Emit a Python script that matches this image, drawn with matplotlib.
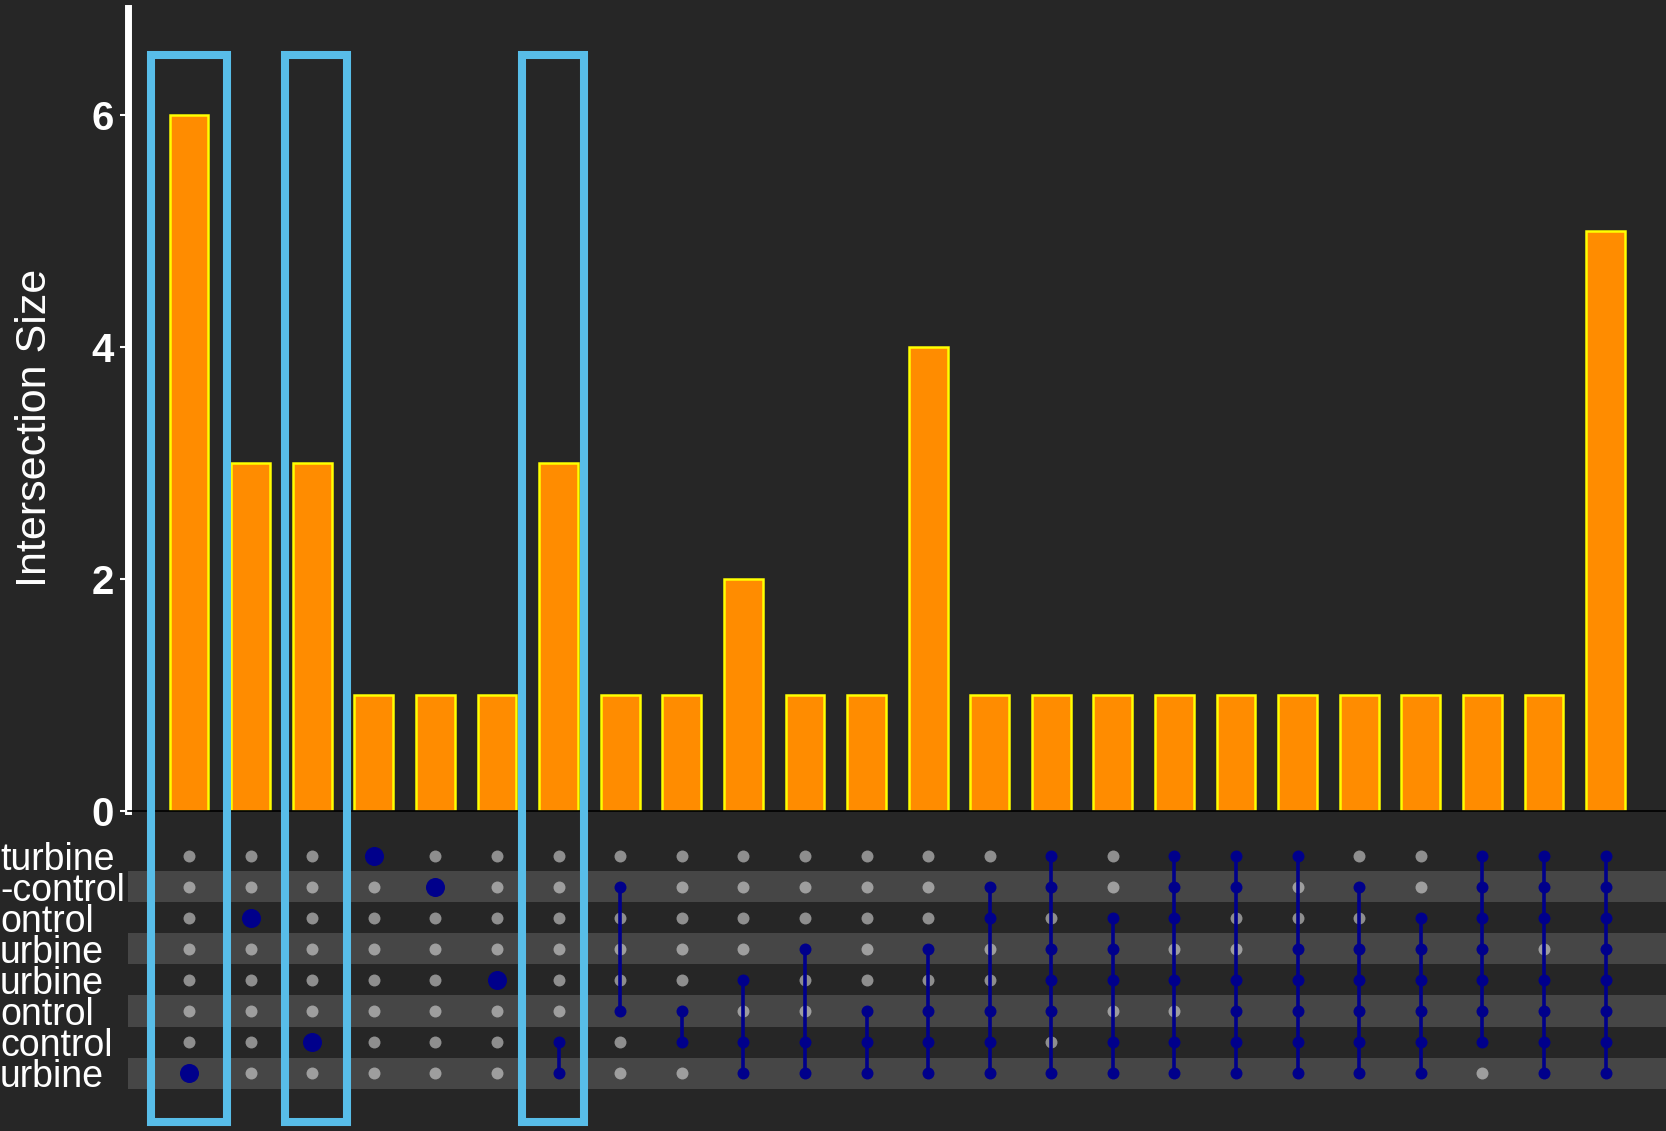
import numpy as np
import matplotlib.pyplot as plt
from matplotlib.patches import Rectangle
from matplotlib.transforms import blended_transform_factory

plt.rcParams['font.family'] = ['Liberation Sans', 'DejaVu Sans']

# set names (cut off at the left edge in the source picture)
set_labels = ['turbine', '-control', 'ontrol', 'urbine',
              'urbine', 'ontrol', 'control', 'urbine']

# intersection sizes, left to right
sizes = [6, 3, 3, 1, 1, 1, 3, 1, 1, 2, 1, 1, 4, 1, 1, 1, 1, 1, 1, 1, 1, 1, 1, 5]

# which set rows (0 = top) take part in each intersection
members = [[7], [2], [6], [0], [1], [4], [6, 7], [1, 5], [5, 6],
           [4, 6, 7], [3, 6, 7], [5, 6, 7], [3, 5, 6, 7], [1, 2, 5, 6, 7],
           [0, 1, 3, 4, 5, 7], [2, 3, 4, 6, 7], [0, 1, 2, 4, 6, 7],
           [0, 1, 4, 5, 6, 7], [0, 3, 4, 5, 6, 7], [1, 3, 4, 5, 6, 7],
           [2, 3, 4, 5, 6, 7], [0, 1, 2, 3, 4, 5, 6], [0, 1, 2, 4, 5, 6, 7],
           [0, 1, 2, 3, 4, 5, 6, 7]]

# highlighted intersections
highlight = [0, 2, 6]

# box geometry (in bar-slot units)
box_widths = [1.22, 1.0, 1.0]
box_offsets = [0.0, 0.06, -0.09]

W, H = 1666, 1131
bg = '#262626'
fig = plt.figure(figsize=(W / 100, H / 100), dpi=100, facecolor=bg)

left = 128 / W
split = 1 - 811 / H
xlim = (-0.99, 23.98)
n = len(sizes)
x = np.arange(n)

# bars
ax = fig.add_axes([left, split, 1 - left, (811 - 8) / H])
ax.set_facecolor('none')
ax.bar(x, sizes, width=0.63, color='#FF8C00', edgecolor='#FFFF00', linewidth=1.8)
ax.set_xlim(*xlim)
ax.set_ylim(0, 6.92)
ax.set_yticks([0, 2, 4, 6])
ax.set_xticks([])
for s in ['top', 'right']:
    ax.spines[s].set_visible(False)
ax.spines['left'].set_color('white')
ax.spines['left'].set_linewidth(5)
ax.spines['bottom'].set_color('black')
ax.spines['bottom'].set_linewidth(1.2)
ax.tick_params(axis='y', colors='white', length=6, width=1.5, pad=4,
               labelsize=29)
for t in ax.get_yticklabels():
    t.set_fontweight('bold')

fig.text(35 / W, 1 - 428 / H, 'Intersection Size', rotation=90,
         ha='center', va='center', color='white', fontsize=31)

# matrix
axm = fig.add_axes([left, 0, 1 - left, split])
axm.set_facecolor('none')
axm.set_xlim(*xlim)
axm.set_ylim(8.87, -1.45)
axm.axis('off')
nrows = len(set_labels)
for r in range(1, nrows, 2):
    axm.axhspan(r - 0.5, r + 0.5, color='white', alpha=0.15, lw=0, zorder=2.5)

for i, m in enumerate(members):
    empty = [r for r in range(nrows) if r not in m]
    axm.plot([i] * len(empty), empty, 'o', color='#8E8E8E', markersize=8.6,
             markeredgewidth=0, zorder=2)
    if len(m) == 1:
        axm.plot([i], m, 'o', color='#00008B', markersize=13.7,
                 markeredgewidth=0, zorder=3)
    else:
        axm.plot([i, i], [min(m), max(m)], color='#00008B', lw=2.6, zorder=3)
        axm.plot([i] * len(m), m, 'o', color='#00008B', markersize=8.6,
                 markeredgewidth=0, zorder=4)

lab_tr = blended_transform_factory(fig.transFigure, axm.transData)
for r, lab in enumerate(set_labels):
    axm.text(0, r, lab, transform=lab_tr, ha='left', va='center_baseline',
             color='white', fontsize=27, clip_on=False)

# highlight boxes spanning bars and matrix
box_tr = blended_transform_factory(ax.transData, fig.transFigure)
y0, y1 = 1 - 1122 / H, 1 - 55 / H
for i, w, dx in zip(highlight, box_widths, box_offsets):
    rect = Rectangle((i + dx - w / 2, y0), w, y1 - y0, transform=box_tr,
                     fill=False, edgecolor='#58BDE8', linewidth=5.8,
                     zorder=10)
    fig.add_artist(rect)

plt.savefig('out.png', dpi=100, facecolor=bg)
